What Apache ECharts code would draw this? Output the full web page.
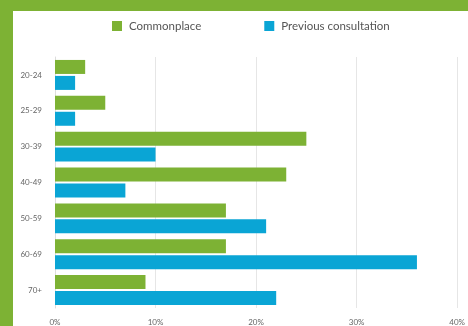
<!DOCTYPE html>
<html><head><meta charset="utf-8">
<script src="https://cdn.jsdelivr.net/npm/echarts@6/dist/echarts.min.js"></script>
<style>
html,body{margin:0;padding:0;width:468px;height:326px;overflow:hidden;background:#7db234;}
#chart{position:absolute;left:13px;top:11px;width:455px;height:315px;background:#fff;}
</style></head><body>
<div id="chart"></div>
<script>
const categories = ['20-24','25-29','30-39','40-49','50-59','60-69','70+'];
const commonplace = [3, 5, 25, 23, 17, 17, 9];
const previousConsultation = [2, 2, 10, 7, 21, 36, 22];
const xTicks = [0, 10, 20, 30, 40];

const chart = echarts.init(document.getElementById('chart'));
chart.setOption({
  animation: false,
  textStyle: {fontFamily: 'Lato'},
  legend: {
    top: 4, left: 94, itemWidth: 10, itemHeight: 10, itemGap: 63,
    icon: 'rect',
    textStyle: {color: '#555', fontSize: 11.5, fontFamily: 'Lato', padding: [0, 0, 0, 2]},
    data: ['Commonplace', 'Previous consultation']
  },
  grid: {left: 42, right: 9, top: 46, height: 252, containLabel: false},
  xAxis: {
    type: 'value', min: xTicks[0], max: xTicks[xTicks.length-1], interval: 10,
    axisLine: {show: false}, axisTick: {show: false},
    axisLabel: {formatter: v => v + '%', color: '#666', fontSize: 8, margin: 10},
    splitLine: {show: true, lineStyle: {color: '#e6e6e6', width: 1}}
  },
  yAxis: {
    type: 'category', data: categories, inverse: true,
    axisLine: {show: true, lineStyle: {color: '#ddd'}}, axisTick: {show: false},
    axisLabel: {color: '#666', fontSize: 8, margin: 13}
  },
  series: [
    {name: 'Commonplace', type: 'bar', data: commonplace, itemStyle: {color: '#7db234'},
     barWidth: 14, barGap: '14%'},
    {name: 'Previous consultation', type: 'bar', data: previousConsultation, itemStyle: {color: '#0aa5d5'},
     barWidth: 14, barGap: '14%'}
  ]
});
</script></body></html>
